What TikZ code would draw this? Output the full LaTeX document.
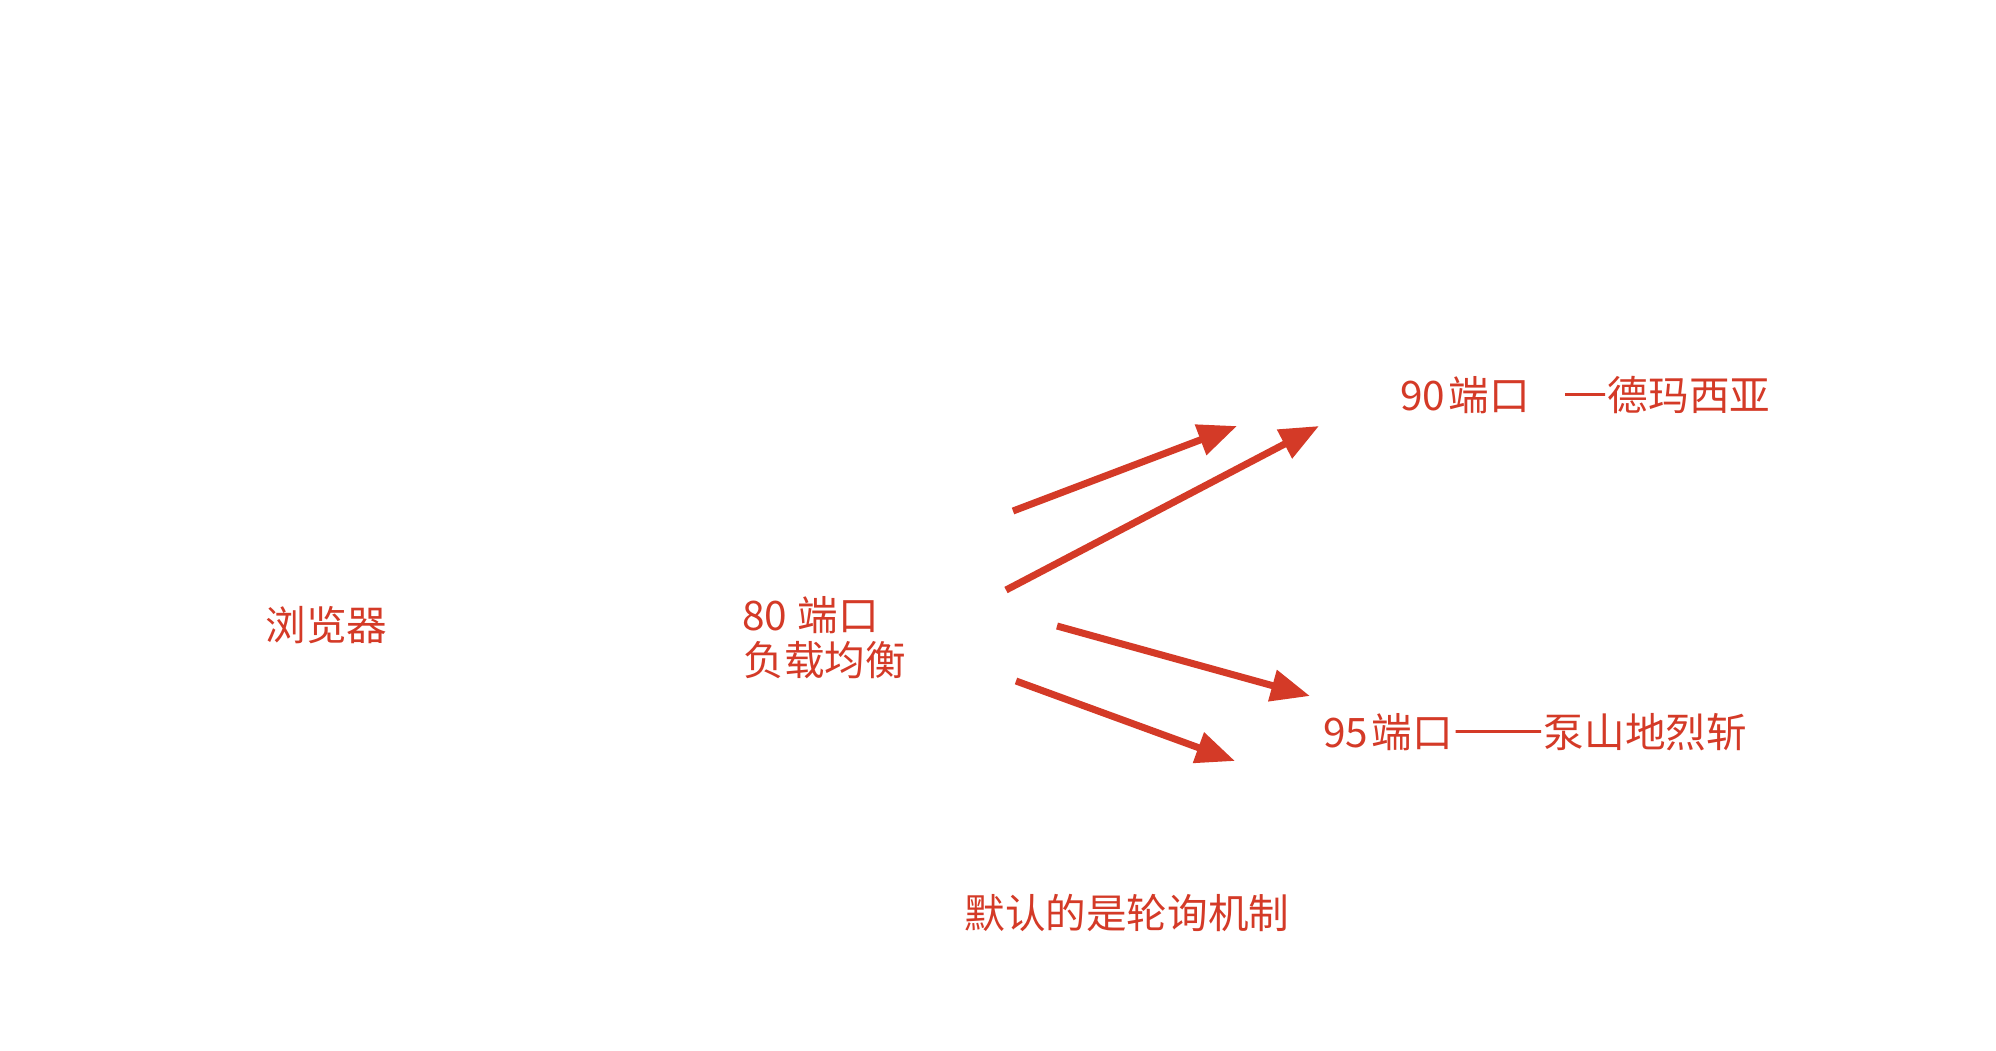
\documentclass[tikz,border=0pt]{standalone}
\usepackage{fontspec}
\usetikzlibrary{arrows.meta}
\newfontfamily\cjk{Noto Sans CJK SC}
\definecolor{accent}{RGB}{212,58,39}
% full-width, heavier dashes, as set between CJK characters
\newcommand{\fwdash}[1]{{\addfontfeatures{CharacterWidth=Full,FakeBold=2.5,FakeStretch=1.12}#1}}

\begin{document}
\begin{tikzpicture}[x=0.5pt,y=-0.5pt,
  labeltext/.style={text=accent, inner sep=0pt, anchor=base west,
    font=\cjk\fontsize{20.3pt}{24pt}\selectfont},
  flow/.style={draw=accent, line width=3.5pt, line cap=butt,
    -{Triangle[length=19.5pt,width=15.5pt]}}]
\fill[white] (0,0) rectangle (1996,1050);
\useasboundingbox (0,0) rectangle (1996,1050);

% labels
\node[labeltext] (browser) at (265,640) {浏览器};
\node[labeltext] (port80) at (742,630) {80\hspace{0.25em}端口};
\node[labeltext] (balancer) at (743,675) {负载均衡};
\node[labeltext] (port90) at (1400,410) {90\hspace{0.08em}端口\hspace{0.8em}\fwdash{—}德玛西亚};
\node[labeltext] (port95) at (1323,747) {95\hspace{0.08em}端口\fwdash{——}泵山地烈斩};
\node[labeltext] (note) at (964,928) {默认的是轮询机制};

% arrow end points
\coordinate (a1s) at (1013,511);  \coordinate (a1e) at (1237,426);
\coordinate (a2s) at (1006,590);  \coordinate (a2e) at (1319,426);
\coordinate (a3s) at (1057,626);  \coordinate (a3e) at (1310,696);
\coordinate (a4s) at (1016,681);  \coordinate (a4e) at (1235,761);

% arrows
\draw[flow] (a1s) -- (a1e);
\draw[flow] (a2s) -- (a2e);
\draw[flow] (a3s) -- (a3e);
\draw[flow] (a4s) -- (a4e);
\end{tikzpicture}
\end{document}
